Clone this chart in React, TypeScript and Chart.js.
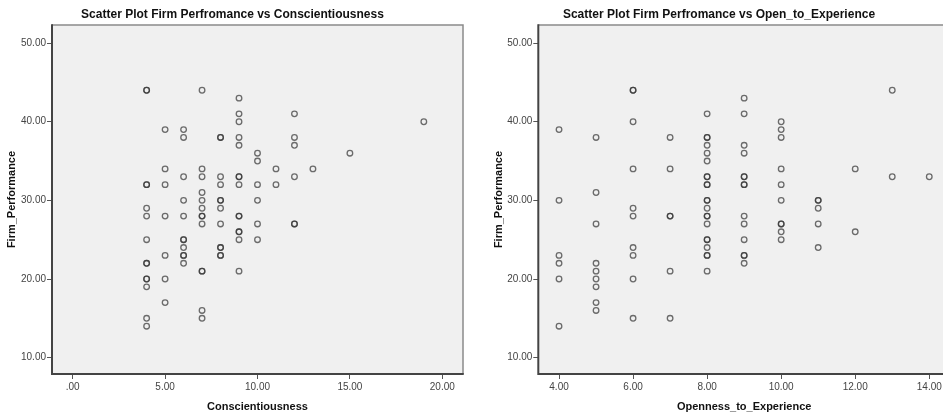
import React, { useEffect, useRef } from "react";
import { Chart, registerables } from "chart.js";
Chart.register(...registerables);

// Conscientiousness vs Firm_Performance
const conscientiousness = [
  4, 4, 4, 4, 4, 4, 4, 4, 4, 4, 4, 4, 4, 4,
  5, 5, 5, 5, 5, 5, 5,
  6, 6, 6, 6, 6, 6, 6, 6, 6, 6, 6,
  7, 7, 7, 7, 7, 7, 7, 7, 7, 7, 7, 7, 7,
  8, 8, 8, 8, 8, 8, 8, 8, 8, 8, 8, 8,
  9, 9, 9, 9, 9, 9, 9, 9, 9, 9, 9, 9, 9, 9,
  10, 10, 10, 10, 10, 10,
  11, 11,
  12, 12, 12, 12, 12, 12,
  13, 15, 19,
];
const perfByConscientiousness = [
  44, 44, 32, 32, 29, 28, 25, 22, 22, 20, 20, 19, 15, 14,
  39, 34, 32, 28, 23, 20, 17,
  39, 38, 33, 30, 28, 25, 25, 24, 23, 23, 22,
  44, 34, 33, 31, 30, 29, 28, 28, 27, 21, 21, 16, 15,
  38, 38, 33, 32, 30, 30, 29, 27, 24, 24, 23, 23,
  43, 41, 40, 38, 37, 33, 33, 32, 28, 28, 26, 26, 25, 21,
  36, 35, 32, 30, 27, 25,
  34, 32,
  41, 38, 37, 33, 27, 27,
  34, 36, 40,
];

// Openness_to_Experience vs Firm_Performance
const openness = [
  4, 4, 4, 4, 4, 4,
  5, 5, 5, 5, 5, 5, 5, 5, 5,
  6, 6, 6, 6, 6, 6, 6, 6, 6, 6,
  7, 7, 7, 7, 7, 7,
  8, 8, 8, 8, 8, 8, 8, 8, 8, 8, 8, 8, 8, 8, 8, 8, 8, 8, 8, 8, 8, 8,
  9, 9, 9, 9, 9, 9, 9, 9, 9, 9, 9, 9, 9, 9,
  10, 10, 10, 10, 10, 10, 10, 10, 10, 10,
  11, 11, 11, 11, 11,
  12, 12,
  13, 13,
  14,
];
const perfByOpenness = [
  39, 30, 23, 22, 20, 14,
  38, 31, 27, 22, 21, 20, 19, 17, 16,
  44, 44, 40, 34, 29, 28, 24, 23, 20, 15,
  38, 34, 28, 28, 21, 15,
  41, 38, 38, 37, 36, 35, 33, 33, 32, 32, 30, 30, 29, 28, 28, 27, 25, 25, 24, 23, 23, 21,
  43, 41, 37, 36, 33, 33, 32, 32, 28, 27, 25, 23, 23, 22,
  40, 39, 38, 34, 32, 30, 27, 27, 26, 25,
  30, 30, 29, 27, 24,
  34, 26,
  44, 33,
  33,
];

const perfTicks = [10, 20, 30, 40, 50];
const conscientiousnessTicks = [0, 5, 10, 15, 20];
const opennessTicks = [4, 6, 8, 10, 12, 14];

const FONT = "'Liberation Sans', Arial, sans-serif";
const NARROW = "'Liberation Sans Narrow', 'Arial Narrow', 'Liberation Sans', Arial, sans-serif";

function fmt(v: number) {
  const s = Number(v).toFixed(2);
  return s.startsWith("0.") ? s.slice(1) : s;
}

const framePlugin = {
  id: "spssFrame",
  beforeDraw(chart: any) {
    const { ctx, chartArea: a } = chart;
    ctx.save();
    ctx.fillStyle = "#ffffff";
    ctx.fillRect(0, 0, chart.width, chart.height);
    ctx.fillStyle = "#f0f0f0";
    ctx.fillRect(a.left, a.top, a.right - a.left, a.bottom - a.top);
    ctx.restore();
  },
  afterDraw(chart: any) {
    const { ctx, chartArea: a } = chart;
    ctx.save();
    ctx.strokeStyle = "#8a8a8a";
    ctx.lineWidth = 1.5;
    ctx.beginPath();
    ctx.moveTo(a.left, a.top);
    ctx.lineTo(a.right, a.top);
    ctx.lineTo(a.right, a.bottom);
    ctx.stroke();
    ctx.strokeStyle = "#444444";
    ctx.lineWidth = 2;
    ctx.beginPath();
    ctx.moveTo(a.left, a.top - 0.75);
    ctx.lineTo(a.left, a.bottom);
    ctx.lineTo(a.right + 0.75, a.bottom);
    ctx.stroke();
    ctx.restore();
  },
};

type PanelProps = {
  left: number;
  width: number;
  title: string;
  xTitle: string;
  xs: number[];
  ys: number[];
  xMin: number;
  xMax: number;
  xTicks: number[];
  padLeft: number;
  padRight: number;
  yAxisWidth: number;
  yTitlePad: number;
};

function ScatterPanel(p: PanelProps) {
  const ref = useRef<HTMLCanvasElement | null>(null);
  useEffect(() => {
    if (!ref.current) return;
    const data = p.xs.map((x, i) => ({ x, y: p.ys[i] }));
    const chart = new Chart(ref.current, {
      type: "scatter",
      data: {
        datasets: [
          {
            data,
            pointStyle: "circle",
            pointRadius: 2.8,
            pointBorderWidth: 1.3,
            borderColor: "rgba(50,50,50,0.7)",
            backgroundColor: "rgba(0,0,0,0)",
          },
        ],
      },
      options: {
        responsive: false,
        animation: false,
        layout: { padding: { left: p.padLeft, right: p.padRight, top: 0, bottom: 0 } },
        plugins: {
          legend: { display: false },
          tooltip: { enabled: false },
          title: {
            display: true,
            text: p.title,
            color: "#111",
            font: { family: FONT, size: 12, weight: "bold" },
            padding: { top: 7.8, bottom: 2.8 },
          },
        },
        scales: {
          x: {
            type: "linear",
            min: p.xMin,
            max: p.xMax,
            afterBuildTicks: (s: any) => {
              s.ticks = p.xTicks.map((v) => ({ value: v }));
            },
            afterFit: (s: any) => {
              s.height = 43;
            },
            border: { display: false },
            grid: { drawOnChartArea: false, drawTicks: true, tickLength: 5, color: "#555", lineWidth: 1 },
            ticks: {
              autoSkip: false,
              maxRotation: 0,
              padding: 2,
              color: "#444",
              font: { family: NARROW, size: 10 },
              callback: (v: any) => fmt(v),
            },
            title: {
              display: true,
              text: p.xTitle,
              color: "#111",
              font: { family: FONT, size: 11, weight: "bold" },
              padding: { top: 0, bottom: 3 },
            },
          },
          y: {
            type: "linear",
            min: 7.92,
            max: 52.3,
            afterBuildTicks: (s: any) => {
              s.ticks = perfTicks.map((v) => ({ value: v }));
            },
            afterFit: (s: any) => {
              s.width = p.yAxisWidth;
            },
            border: { display: false },
            grid: { drawOnChartArea: false, drawTicks: true, tickLength: 5, color: "#555", lineWidth: 1 },
            ticks: {
              autoSkip: false,
              padding: 1,
              color: "#444",
              font: { family: NARROW, size: 10 },
              callback: (v: any) => fmt(v),
            },
            title: {
              display: true,
              text: "Firm_Performance",
              color: "#111",
              font: { family: FONT, size: 11, weight: "bold" },
              padding: { top: p.yTitlePad, bottom: 0 },
            },
          },
        },
      },
      plugins: [framePlugin],
    } as any);
    return () => chart.destroy();
  }, []);
  return (
    <canvas
      ref={ref}
      width={p.width}
      height={417}
      style={{ position: "absolute", left: p.left, top: 0, width: p.width, height: 417 }}
    />
  );
}

export default function App() {
  return (
    <div
      style={{
        position: "fixed",
        left: 0,
        top: 0,
        width: 943,
        height: 417,
        overflow: "hidden",
        background: "#fff",
      }}
    >
      <ScatterPanel
        left={0}
        width={470}
        title="Scatter Plot Firm Perfromance vs Conscientiousness"
        xTitle="Conscientiousness"
        xs={conscientiousness}
        ys={perfByConscientiousness}
        xMin={-1.12}
        xMax={21.12}
        xTicks={conscientiousnessTicks}
        padLeft={2}
        padRight={7}
        yAxisWidth={50}
        yTitlePad={3.8}
      />
      <ScatterPanel
        left={470}
        width={490}
        title="Scatter Plot Firm Perfromance vs Open_to_Experience"
        xTitle="Openness_to_Experience"
        xs={openness}
        ys={perfByOpenness}
        xMin={3.44}
        xMax={14.56}
        xTicks={opennessTicks}
        padLeft={18}
        padRight={10}
        yAxisWidth={50.3}
        yTitlePad={4.8}
      />
    </div>
  );
}
